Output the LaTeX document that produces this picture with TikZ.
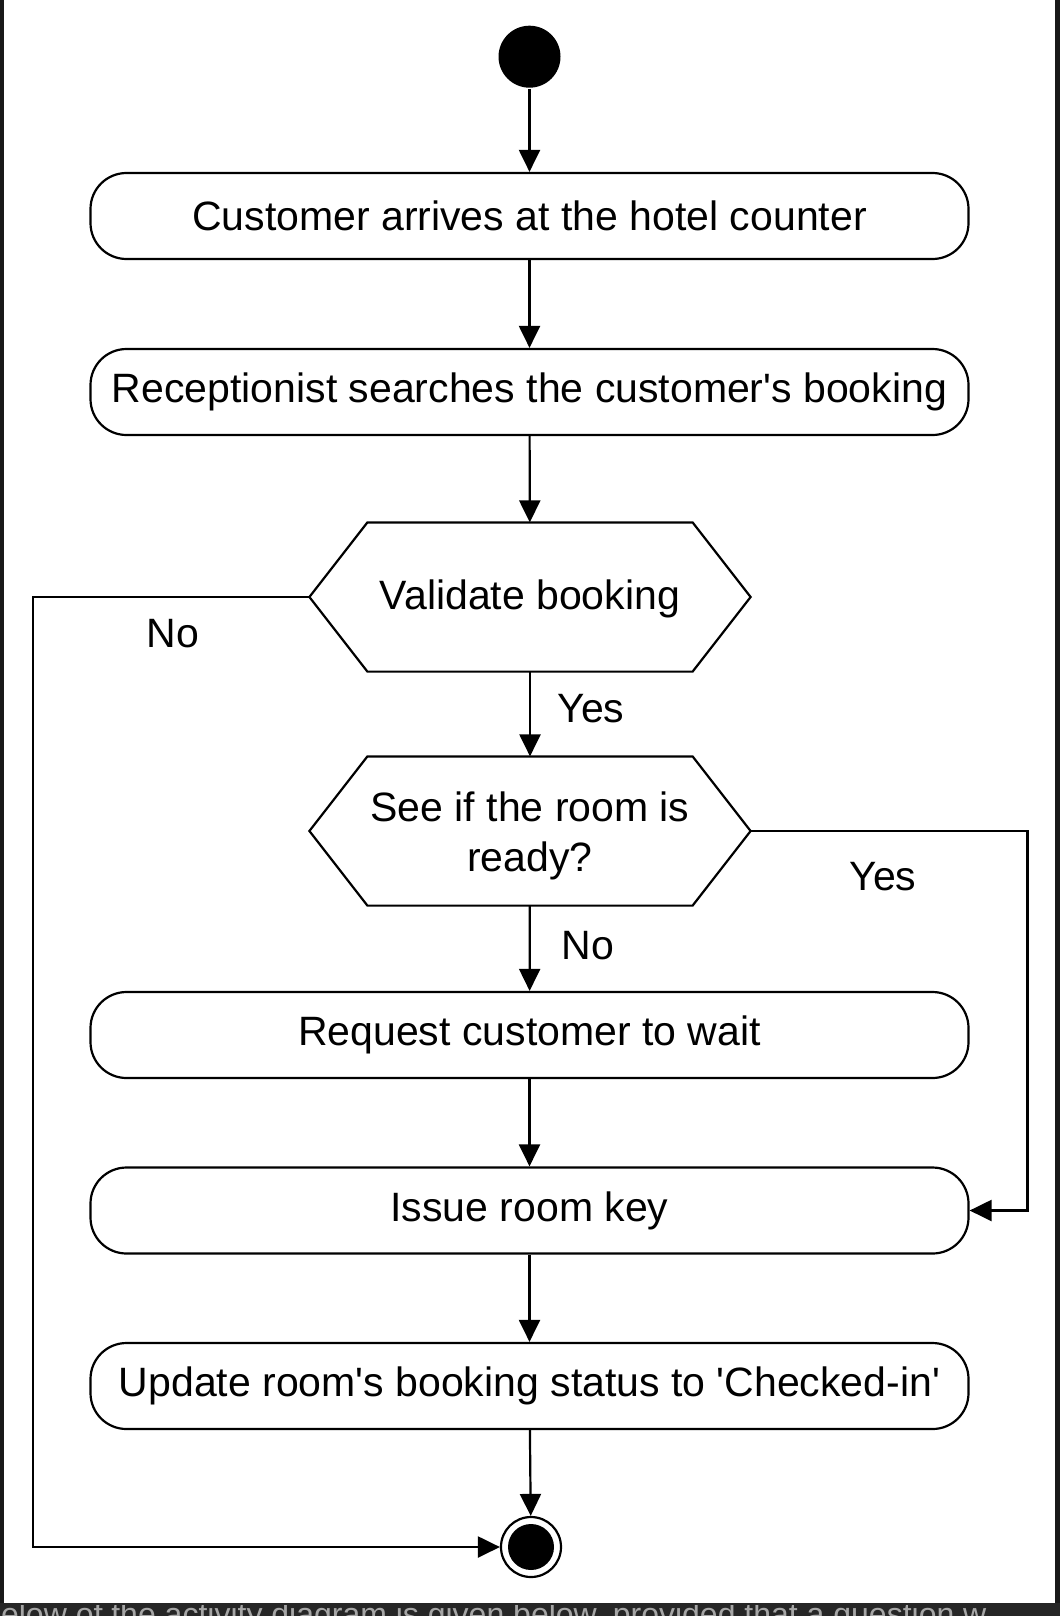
\documentclass[tikz,border=0pt]{standalone}
\usepackage{fontspec}
\setmainfont{Liberation Sans}[Ligatures=TeXOff]
\usetikzlibrary{arrows.meta}
\begin{document}
\begin{tikzpicture}[x=1pt,y=-1pt,line width=2.2pt,
  act/.style={draw, rounded corners=36pt, minimum width=878pt, minimum height=86pt, inner sep=0pt, font=\fontsize{41}{50}\selectfont},
  hexbox/.style={minimum width=439pt, minimum height=147pt, inner sep=0pt},
  arr/.style={-{Triangle[length=22pt,width=21pt]}},
  lbl/.style={inner sep=0pt, align=center, font=\fontsize{41}{50}\selectfont}]
\useasboundingbox (0,0) rectangle (1060,1616);
\fill[white] (0,0) rectangle (1060,1616);
% frame artefacts
\fill[black!90] (0,0) rectangle (4,1616);
\fill[black!90] (1055,0) rectangle (1060,1616);
\fill[black!85] (0,1603) rectangle (1060,1616);
\begin{scope}
\clip (0,1605) rectangle (1060,1616);
\node[anchor=base west, inner sep=0pt, text=black!35, font=\fontsize{32}{38}\selectfont] (cut) at (0,1625) {elow of the activity diagram is given below, provided that a question w};
\end{scope}
% nodes
\node[circle, fill, minimum size=62pt, inner sep=0pt] (start) at (529.5,56.7) {};
\node[act] (b1) at (529.5,216) {Customer arrives at the hotel counter};
\node[act] (b2) at (529.5,392) {Receptionist searches the customer's booking};
\node[hexbox] (v1) at (530,597) {};
\node[hexbox] (v2) at (530,831) {};
\node[lbl] (t1) at (530,599) {Validate booking};
\node[lbl] (t2) at (530,835.5) {See if the room is\\ready?};
\node[act] (b3) at (529.5,1035) {Request customer to wait};
\node[act] (b4) at (529.5,1210.5) {Issue room key};
\node[act] (b5) at (529.5,1386) {Update room's booking status to 'Checked-in'};
\node[circle, draw, fill=white, minimum size=60pt, inner sep=0pt] (end) at (531,1547) {};
\fill (end.center) circle (23pt);
\foreach \h in {v1,v2}{
  \draw (\h.west) -- ([xshift=58pt]\h.north west) -- ([xshift=-58pt]\h.north east) -- (\h.east) -- ([xshift=-58pt]\h.south east) -- ([xshift=58pt]\h.south west) -- cycle;
}
\coordinate (nl) at (33,0);
\coordinate (nr) at (1027.5,0);
% connectors
\draw[arr] (start) -- (b1);
\draw[arr] (b1) -- (b2);
\draw[arr] (b2) -- (v1);
\draw[arr] (v1) -- (v2);
\draw[arr] (v2) -- (b3);
\draw[arr] (b3) -- (b4);
\draw[arr] (b4) -- (b5);
\draw[arr] (b5) -- (end);
\draw[arr] (v1.west) -- (v1.west -| nl) |- (end);
\draw[arr] (v2.east) -- (v2.east -| nr) |- (b4);
% labels
\node[lbl] (lno1) at (173,633.5) {No};
\node[lbl] (lyes1) at (591,709) {Yes};
\node[lbl] (lyes2) at (883,877) {Yes};
\node[lbl] (lno2) at (588,946) {No};
\end{tikzpicture}
\end{document}
